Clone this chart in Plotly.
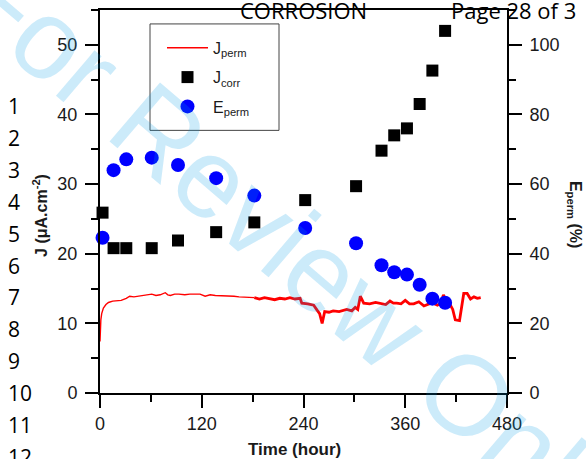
import plotly.graph_objects as go

# ---------------- data ----------------
# sampling times (hour) for J_corr and E_perm
time_pts = [3, 16, 31, 61, 92, 137, 182, 242, 302, 332, 347, 362, 377, 392, 407]
# corrosion current density J_corr (uA.cm-2) - left axis
j_corr = [25.9, 20.8, 20.8, 20.8, 21.9, 23.1, 24.5, 27.7, 29.7, 34.8, 37.0, 38.0, 41.5, 46.3, 52.0]
# permeation efficiency E_perm (%) - right axis
e_perm = [44.6, 64.0, 67.1, 67.6, 65.5, 61.7, 56.7, 47.4, 43.0, 36.7, 34.7, 34.0, 31.1, 27.1, 25.9]

# permeation current J_perm (uA.cm-2), first (dense, thin) part
t_perm_a = [0, 0.5, 1, 2, 4, 7, 10, 15, 20, 25, 31, 35, 40, 45, 51, 56, 61, 66, 71, 77, 80,
            83, 88, 93, 100, 106, 112, 118, 124, 130, 136, 141, 146, 152, 158, 164, 170, 176, 182]
j_perm_a = [7.4, 9.4, 10.5, 11.4, 12.2, 12.7, 13.0, 13.2, 13.2, 13.3, 13.6, 13.9, 13.8, 13.9, 14.0,
            14.1, 14.2, 14.0, 14.1, 14.4, 14.1, 14.0, 14.2, 14.2, 14.1, 14.2, 14.2, 14.2, 13.9, 14.1,
            14.0, 14.0, 14.0, 13.9, 13.9, 13.8, 13.8, 13.7, 13.7]
# second (thick) part
t_perm_b = [182, 188, 194, 200, 206, 212, 218, 224, 230, 236, 238, 245, 252, 256, 259, 262, 265,
            270, 275, 282, 291, 297, 301, 304, 307, 311, 318, 325, 331, 337, 342, 346, 350, 355,
            360, 365, 370, 376, 382, 388, 393, 398, 402, 405, 409, 412, 416, 419, 424, 429, 433,
            437, 441, 445, 449]
j_perm_b = [13.7, 13.5, 13.7, 13.6, 13.4, 13.6, 13.5, 13.7, 13.5, 13.6, 12.9, 12.8, 12.6, 11.9,
            11.4, 10.0, 11.7, 11.6, 11.8, 11.7, 12.0, 11.8, 12.3, 12.0, 13.9, 12.9, 12.8, 13.0,
            12.9, 12.7, 13.2, 12.9, 12.9, 12.8, 13.3, 12.8, 12.8, 13.1, 12.5, 12.8, 12.9, 12.6,
            12.9, 14.1, 12.9, 12.9, 12.0, 10.5, 10.4, 14.3, 14.3, 13.5, 13.8, 13.6, 13.7]

x_ticks = [0, 120, 240, 360, 480]
y_ticks = [0, 10, 20, 30, 40, 50]
y2_ticks = [0, 20, 40, 60, 80, 100]

line_numbers = ["1", "2", "3", "4", "5", "6", "7", "8", "9", "10", "11", "12"]

# ---------------- layout helpers ----------------
W, H = 586, 459
ML, MR, MT, MB = 100, 79, 8, 66
PW, PH = W - ML - MR, H - MT - MB


def px(x):
    return (x - ML) / PW


def py(y):
    return (H - MB - y) / PH


FONT = "Liberation Sans, Arial, sans-serif"
SANS2 = "Open Sans, Noto Sans, sans-serif"

fig = go.Figure()

fig.add_trace(go.Scatter(
    x=t_perm_a, y=j_perm_a, mode="lines", name="J<sub>perm</sub>",
    legendgroup="perm", line=dict(color="#ff0000", width=1.4), cliponaxis=False))
fig.add_trace(go.Scatter(
    x=t_perm_b, y=j_perm_b, mode="lines", name="J<sub>perm</sub>",
    legendgroup="perm", showlegend=False, line=dict(color="#ff0000", width=2.8),
    cliponaxis=False))
fig.add_trace(go.Scatter(
    x=time_pts, y=j_corr, mode="markers", name="J<sub>corr</sub>", legendgroup="corr",
    marker=dict(symbol="square", size=12, color="black"), cliponaxis=False))
fig.add_trace(go.Scatter(
    x=time_pts, y=e_perm, mode="markers", name="E<sub>perm</sub>", legendgroup="eperm",
    yaxis="y2", marker=dict(symbol="circle", size=14, color="#0000ff"), cliponaxis=False))

axis_common = dict(
    ticks="outside", ticklen=13, tickwidth=2, tickcolor="black",
    showline=True, linewidth=2, linecolor="black", showgrid=False, zeroline=False,
    tickfont=dict(family=FONT, size=18, color="#1a1a1a"),
)

fig.update_layout(
    width=W, height=H,
    margin=dict(l=ML, r=MR, t=MT, b=MB, pad=0),
    paper_bgcolor="white", plot_bgcolor="white",
    font=dict(family=FONT, size=16, color="#1a1a1a"),
    legend=dict(x=px(162), y=py(29), xanchor="left", yanchor="top",
                bgcolor="rgba(0,0,0,0)", borderwidth=0,
                font=dict(family=FONT, size=16, color="#1a1a1a"),
                itemwidth=41, tracegroupgap=5.5, traceorder="grouped"),
    xaxis=dict(range=[0, 480], tickmode="array", tickvals=x_ticks,
               ticktext=[str(v) for v in x_ticks], mirror=True,
               minor=dict(dtick=60, ticks="outside", ticklen=7, tickwidth=2, tickcolor="black"),
               ticklabelstandoff=0, **axis_common),
    yaxis=dict(range=[0, 55], tickmode="array", tickvals=y_ticks,
               ticktext=[str(v) for v in y_ticks],
               minor=dict(dtick=5, ticks="outside", ticklen=7, tickwidth=2, tickcolor="black"),
               ticklabelstandoff=4, **axis_common),
    yaxis2=dict(range=[0, 110], overlaying="y", side="right", tickmode="array",
                tickvals=y2_ticks, ticktext=[str(v) for v in y2_ticks],
                minor=dict(dtick=10, ticks="outside", ticklen=7, tickwidth=2, tickcolor="black"),
                ticklabelstandoff=4, **axis_common),
    shapes=[dict(type="rect", xref="paper", yref="paper",
                 x0=px(150), x1=px(279), y0=py(129), y1=py(22),
                 line=dict(color="#444444", width=1), fillcolor="white", layer="below")],
)

annotations = []
# watermark
annotations.append(dict(
    text="For Review Only", xref="paper", yref="paper", x=px(293), y=py(246),
    xanchor="center", yanchor="middle", showarrow=False, textangle=40.5,
    font=dict(family=FONT, size=113, color="rgba(0,155,230,0.2)")))
# page header
annotations.append(dict(
    text="CORROSION", xref="paper", yref="paper", x=px(303.5), y=py(8.5),
    xanchor="center", yanchor="middle", showarrow=False,
    font=dict(family=SANS2, size=22, color="black")))
annotations.append(dict(
    text="Page 28 of 3", xref="paper", yref="paper", x=px(449), y=py(8.5),
    xanchor="left", yanchor="middle", showarrow=False,
    font=dict(family=SANS2, size=22, color="black")))
# line numbers
for i, lab in enumerate(line_numbers):
    annotations.append(dict(
        text=lab, xref="paper", yref="paper", x=px(6), y=py(105 + 32 * i),
        xanchor="left", yanchor="middle", showarrow=False,
        font=dict(family=SANS2, size=21, color="black")))
# axis titles
annotations.append(dict(
    text="<b>Time (hour)</b>", xref="paper", yref="paper", x=px(294), y=py(450),
    xanchor="center", yanchor="middle", showarrow=False,
    font=dict(family=FONT, size=17, color="#1a1a1a")))
annotations.append(dict(
    text="<b>J (\u03bcA.cm<sup>-2</sup>)</b>", xref="paper", yref="paper", x=px(40), y=py(215),
    xanchor="center", yanchor="middle", showarrow=False, textangle=-90,
    font=dict(family=FONT, size=16, color="#1a1a1a")))
annotations.append(dict(
    text="<b>E<sub>perm</sub> (%)</b>", xref="paper", yref="paper", x=px(574), y=py(213),
    xanchor="center", yanchor="middle", showarrow=False, textangle=90,
    font=dict(family=FONT, size=16, color="#1a1a1a")))

fig.update_layout(annotations=annotations)

fig.write_html(
    "out.html",
    config={"displayModeBar": False, "staticPlot": True},
    post_script="document.body.style.margin='0px';document.body.style.overflow='hidden';",
)
